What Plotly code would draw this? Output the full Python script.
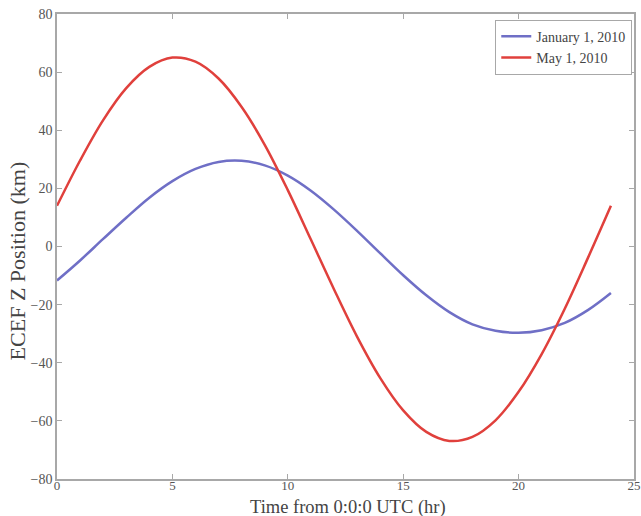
import plotly.graph_objects as go

hours = list(range(0, 25))
jan_z = [-11.7, -4.8, 2.6, 9.9, 16.8, 22.5, 26.7, 29.1, 29.5, 27.9, 24.4, 19.2, 12.7,
         5.4, -2.3, -9.9, -16.8, -22.6, -26.8, -29.0, -29.7, -28.8, -26.3, -21.9, -16.0]
may_z = [14.0, 29.6, 43.5, 54.5, 61.8, 65.0, 63.6, 57.8, 48.0, 35.0, 19.4, 2.4, -14.7,
         -31.0, -45.2, -56.4, -63.8, -66.9, -65.5, -59.8, -50.0, -37.0, -21.4, -4.0, 14.0]
names = ["January 1, 2010", "May 1, 2010"]
colors = ["#6f6fc6", "#e0403c"]

fig = go.Figure()
for n, ys, c in zip(names, [jan_z, may_z], colors):
    fig.add_trace(go.Scatter(x=hours, y=ys, mode="lines", name=n,
                             line=dict(color=c, width=2.5, shape="spline")))

axis_common = dict(showline=True, linecolor="#a8a8a8", linewidth=1.5, mirror="ticks",
                   ticks="inside", ticklen=5, tickcolor="#a8a8a8", showgrid=False,
                   zeroline=False, automargin=False)

fig.update_xaxes(range=[0, 25], dtick=5, tick0=0, ticklabelstandoff=-6,
                 tickfont=dict(family="Liberation Serif", size=13, color="#555555"),
                 **axis_common)
fig.update_yaxes(range=[-80, 80], dtick=20, tick0=0,
                 tickfont=dict(family="Liberation Serif", size=14, color="#555555"),
                 **axis_common)

fig.update_layout(
    width=641, height=516,
    margin=dict(l=57, r=7, t=14, b=37),
    plot_bgcolor="white", paper_bgcolor="white",
    legend=dict(x=0.997, y=0.988, xanchor="right", yanchor="top",
                bordercolor="#a8a8a8", borderwidth=1, bgcolor="white",
                font=dict(family="Liberation Serif", size=14, color="#444444"),
                itemwidth=30, tracegroupgap=0),
    annotations=[
        dict(text="ECEF Z Position (km)", textangle=-90, showarrow=False,
             xref="paper", yref="paper", x=-0.0685, y=0.469,
             xanchor="center", yanchor="middle",
             font=dict(family="Liberation Serif", size=22, color="#444444")),
        dict(text="Time from 0:0:0 UTC (hr)", showarrow=False,
             xref="paper", yref="paper", x=0.504, y=-0.086,
             xanchor="center", yanchor="bottom", borderpad=0,
             font=dict(family="Liberation Serif", size=18.5, color="#444444")),
    ],
)

fig.write_html("out.html")
